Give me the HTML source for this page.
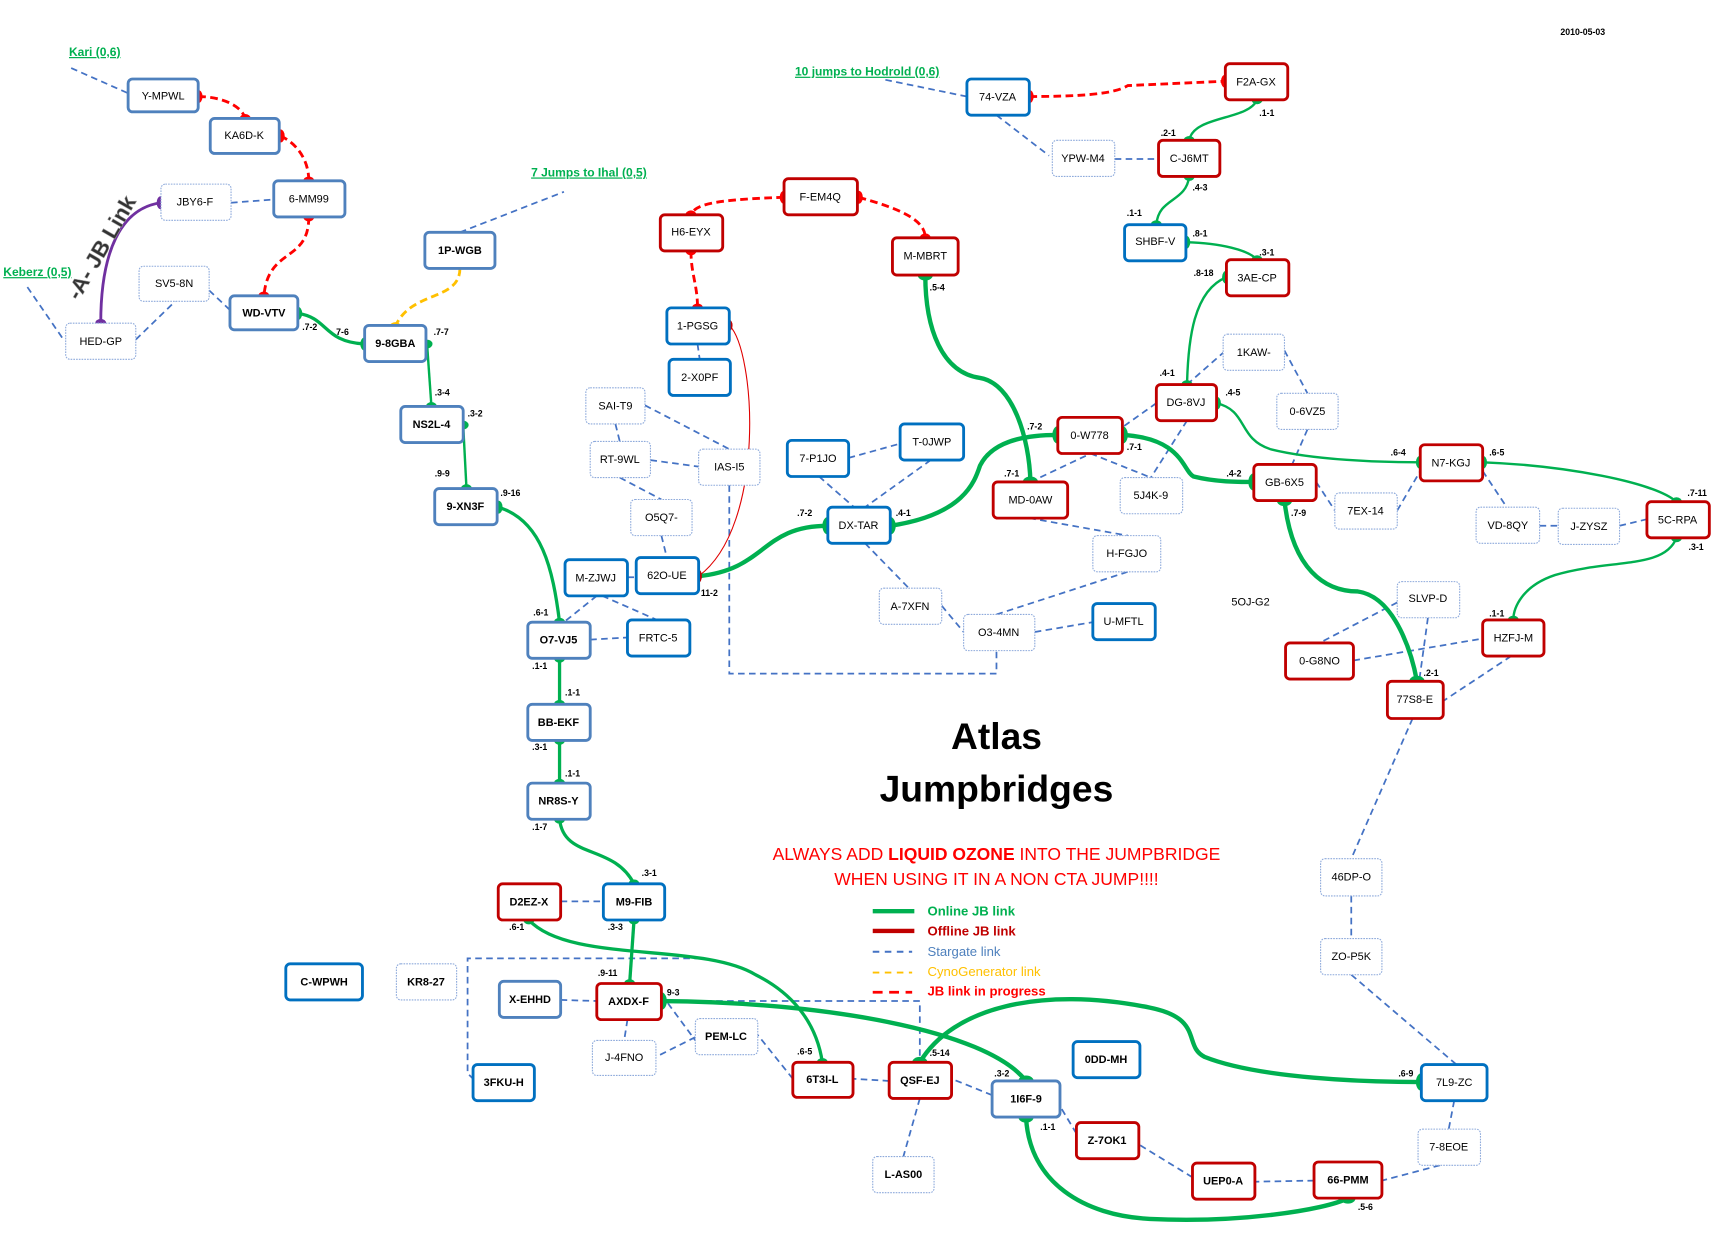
<!DOCTYPE html>
<html><head><meta charset="utf-8"><style>
html,body{margin:0;padding:0;background:#fff;}
svg{display:block;}
text{font-family:"Liberation Sans Narrow","Liberation Sans",sans-serif;}
.n{font-size:10px;text-anchor:middle;dominant-baseline:central;fill:#000;}
.l{font-size:8px;font-weight:bold;fill:#000;}
.sg{stroke:#4472c4;stroke-width:1.6;fill:none;stroke-dasharray:6 4;}
.g{stroke:#00b050;fill:none;stroke-width:2.2;}
.gt{stroke:#00b050;fill:none;stroke-width:4;}
.rd{stroke:#ff0000;fill:none;stroke-width:2.6;stroke-dasharray:7 4;}
.lk{font-size:11px;font-weight:bold;fill:#00b050;text-decoration:underline;}
</style></head><body>
<svg width="1717" height="1241" viewBox="0 0 1568 1133" xmlns="http://www.w3.org/2000/svg">
<rect width="1568" height="1133" fill="#fff"/>

<!-- stargate links -->
<g class="sg">
<path d="M65,62 L117,85"/><path d="M211,185 L250,182"/><path d="M25,262 L58,310"/>
<path d="M124,310 L160,275"/><path d="M191,265 L210,283"/><path d="M420,212 L515,175"/>
<path d="M562,387 L566,403"/><path d="M589,370 L666,410"/><path d="M594,420 L638,426"/>
<path d="M566,436 L604,456"/><path d="M604,489 L609,509"/><path d="M637,314 L639,328"/>
<path d="M573,527 L581,527"/><path d="M545,544 L515,568"/><path d="M550,544 L600,566"/>
<path d="M539,584 L573,582"/><path d="M666,443 L666,615 L910,615 L910,594"/>
<path d="M775,418 L822,405"/><path d="M748,435 L780,463"/><path d="M850,420 L790,463"/>
<path d="M790,496 L830,537"/><path d="M860,553 L880,577"/><path d="M910,561 L1030,522"/>
<path d="M945,577 L998,568"/><path d="M940,473 L1030,489"/><path d="M941,440 L996,414"/>
<path d="M996,414 L1051,436"/><path d="M1056,368 L1025,390"/><path d="M1084,384 L1051,436"/>
<path d="M1084,351 L1117,322"/><path d="M1173,320 L1194,359"/><path d="M1194,392 L1180,424"/>
<path d="M1202,440 L1219,466"/><path d="M1276,466 L1297,430"/><path d="M1354,430 L1376,463"/>
<path d="M1406,480 L1423,480"/><path d="M1479,480 L1504,474"/><path d="M883,88 L805,72"/>
<path d="M910,105 L958,142"/><path d="M1018,145 L1058,145"/><path d="M1276,550 L1205,587"/>
<path d="M1304,564 L1296,622"/><path d="M1236,603 L1354,583"/><path d="M1380,599 L1318,640"/>
<path d="M1290,656 L1234,784"/><path d="M1234,818 L1234,857"/><path d="M1234,890 L1330,972"/>
<path d="M1328,1005 L1323,1031"/><path d="M1315,1064 L1262,1078"/><path d="M1200,1078 L1146,1079"/>
<path d="M1089,1075 L1040,1045"/><path d="M983,1035 L968,1010"/><path d="M906,1000 L869,985"/>
<path d="M812,987 L779,985"/><path d="M840,1003 L825,1056"/><path d="M724,985 L692,945"/>
<path d="M635,947 L599,965"/><path d="M604,908 L635,950"/><path d="M573,931 L570,950"/>
<path d="M512,913 L545,914"/><path d="M512,823 L551,823"/>
<path d="M640,875 L427,875 L427,980 L432,985"/><path d="M604,914 L840,914 L840,970"/>
</g>

<!-- red in-progress -->
<g class="rd">
<path d="M181,88 C200,88 220,95 224,108"/><path d="M256,124 C270,130 282,145 282,165"/>
<path d="M282,198 C282,240 245,225 241,270"/><path d="M716,180 C660,182 635,185 631,196"/>
<path d="M784,180 C820,190 845,200 845,217"/><path d="M631,229 C631,250 637,260 637,281"/>
<path d="M940,88 C1000,88 1020,84 1030,78 L1119,74"/>
</g>
<path d="M420,245 C420,275 375,265 361,298" stroke="#ffc000" stroke-width="2.6" stroke-dasharray="7 4" fill="none"/>
<path d="M92,295 C92,230 110,190 147,185" stroke="#7030a0" stroke-width="2.6" fill="none"/>
<path d="M666,297 C690,320 700,480 638,526" stroke="#e00000" stroke-width="1" fill="none"/>

<!-- green links -->
<path class="g" d="M272,286 C300,290 295,312 333,314" style="stroke-width:3"/>
<path class="g" d="M390,314 L394,371"/><path class="g" d="M423,388 L426,446"/>
<path class="g" d="M455,463 C495,475 505,520 511,568" style="stroke-width:3"/>
<path class="g" d="M511,601 L511,643" style="stroke-width:3"/><path class="g" d="M511,676 L511,715" style="stroke-width:3"/>
<path class="g" d="M511,748 C515,785 560,770 579,807" style="stroke-width:3"/>
<path class="g" d="M579,840 L575,898" style="stroke-width:3"/>
<path class="g" d="M483,840 C520,880 640,860 690,890 C720,905 745,930 751,970" style="stroke-width:3"/>
<path class="gt" d="M604,914 C750,915 900,940 937,987"/>
<path class="gt" d="M638,526 C700,520 695,480 756,480"/>
<path class="gt" d="M813,480 C880,470 890,440 895,425 C905,405 930,397 966,397"/>
<path class="gt" d="M845,251 C845,300 860,340 895,345 C925,350 940,400 941,440"/>
<path class="gt" d="M1025,397 C1080,400 1080,430 1090,435 C1110,440 1130,440 1145,440"/>
<path class="g" d="M1148,91 C1140,110 1090,105 1086,128"/>
<path class="g" d="M1086,161 C1083,185 1058,180 1056,205"/>
<path class="g" d="M1083,221 C1115,222 1140,228 1148,237"/>
<path class="g" d="M1120,253 C1090,265 1085,310 1084,351"/>
<path class="g" d="M1111,368 C1140,375 1130,400 1160,410 C1200,420 1260,422 1297,422"/>
<path class="g" d="M1354,422 C1430,425 1510,440 1531,458"/>
<path class="g" d="M1531,491 C1520,520 1470,510 1420,525 C1390,535 1382,555 1382,566"/>
<path class="gt" d="M1173,457 C1180,520 1210,540 1240,540 C1275,545 1290,600 1294,622"/>
<path class="gt" d="M840,970 C870,920 950,900 1050,920 C1100,930 1080,955 1100,965 C1150,985 1250,988 1298,988"/>
<path class="gt" d="M937,1020 C940,1080 990,1110 1050,1113 C1130,1117 1210,1105 1231,1094"/>

<!-- endpoint dots -->
<g fill="#00b050">
<ellipse cx="272" cy="286" rx="4" ry="6"/><ellipse cx="333" cy="314" rx="4" ry="6"/>
<ellipse cx="390" cy="314" rx="5" ry="4"/><ellipse cx="394" cy="371" rx="5" ry="4"/>
<ellipse cx="423" cy="388" rx="5" ry="4"/><ellipse cx="426" cy="446" rx="5" ry="4"/>
<ellipse cx="455" cy="463" rx="4" ry="6"/><ellipse cx="511" cy="568" rx="5" ry="4"/>
<ellipse cx="511" cy="601" rx="5" ry="4"/><ellipse cx="511" cy="643" rx="5" ry="4"/>
<ellipse cx="511" cy="676" rx="5" ry="4"/><ellipse cx="511" cy="715" rx="5" ry="4"/>
<ellipse cx="511" cy="748" rx="5" ry="4"/><ellipse cx="579" cy="807" rx="5" ry="4"/>
<ellipse cx="579" cy="840" rx="5" ry="4"/><ellipse cx="575" cy="898" rx="5" ry="4"/>
<ellipse cx="483" cy="840" rx="5" ry="4"/><ellipse cx="751" cy="970" rx="5" ry="4"/>
<ellipse cx="604" cy="914" rx="5" ry="8"/><ellipse cx="937" cy="987" rx="7" ry="5"/>
<ellipse cx="756" cy="480" rx="5" ry="8"/><ellipse cx="813" cy="480" rx="5" ry="8"/>
<ellipse cx="966" cy="397" rx="5" ry="8"/><ellipse cx="845" cy="251" rx="7" ry="5"/>
<ellipse cx="941" cy="440" rx="7" ry="5"/><ellipse cx="1025" cy="397" rx="5" ry="8"/>
<ellipse cx="1145" cy="440" rx="5" ry="8"/><ellipse cx="1148" cy="91" rx="5" ry="4"/>
<ellipse cx="1086" cy="128" rx="5" ry="4"/><ellipse cx="1086" cy="161" rx="5" ry="4"/>
<ellipse cx="1056" cy="205" rx="5" ry="4"/><ellipse cx="1083" cy="221" rx="4" ry="6"/>
<ellipse cx="1148" cy="237" rx="5" ry="4"/><ellipse cx="1120" cy="253" rx="4" ry="6"/>
<ellipse cx="1084" cy="351" rx="5" ry="4"/><ellipse cx="1111" cy="368" rx="4" ry="6"/>
<ellipse cx="1297" cy="422" rx="4" ry="6"/><ellipse cx="1354" cy="422" rx="4" ry="6"/>
<ellipse cx="1531" cy="458" rx="5" ry="4"/><ellipse cx="1531" cy="491" rx="5" ry="4"/>
<ellipse cx="1382" cy="566" rx="5" ry="4"/><ellipse cx="1173" cy="457" rx="7" ry="5"/>
<ellipse cx="1294" cy="622" rx="7" ry="5"/><ellipse cx="840" cy="970" rx="7" ry="5"/>
<ellipse cx="1298" cy="988" rx="5" ry="8"/><ellipse cx="937" cy="1020" rx="7" ry="5"/>
<ellipse cx="1231" cy="1094" rx="7" ry="5"/>
</g>
<g fill="#ff0000">
<ellipse cx="181" cy="88" rx="4" ry="6"/><ellipse cx="224" cy="108" rx="5" ry="4"/>
<ellipse cx="256" cy="124" rx="4" ry="6"/><ellipse cx="282" cy="165" rx="5" ry="4"/>
<ellipse cx="282" cy="198" rx="5" ry="4"/><ellipse cx="241" cy="270" rx="5" ry="4"/>
<ellipse cx="716" cy="180" rx="4" ry="6"/><ellipse cx="631" cy="196" rx="5" ry="4"/>
<ellipse cx="784" cy="180" rx="4" ry="6"/><ellipse cx="845" cy="217" rx="5" ry="4"/>
<ellipse cx="631" cy="229" rx="5" ry="4"/><ellipse cx="637" cy="281" rx="5" ry="4"/>
<ellipse cx="940" cy="88" rx="4" ry="6"/><ellipse cx="1119" cy="74" rx="4" ry="6"/>
</g>
<ellipse cx="666" cy="297" rx="3" ry="5" fill="#c00000"/><ellipse cx="638" cy="526" rx="3" ry="6" fill="#c00000"/>
<ellipse cx="361" cy="298" rx="5" ry="4" fill="#ffc000"/>
<ellipse cx="92" cy="295" rx="5" ry="4" fill="#7030a0"/><ellipse cx="147" cy="185" rx="4" ry="6" fill="#7030a0"/>

<!-- nodes -->
<g stroke-width="2.6" fill="#fff">
<g stroke="#4f81bd">
<rect x="117" y="72" width="64" height="30" rx="4"/><rect x="192" y="108" width="63" height="32" rx="4"/>
<rect x="250" y="165" width="65" height="33" rx="4"/><rect x="210" y="270" width="62" height="31" rx="4"/>
<rect x="333" y="297" width="56" height="33" rx="4"/><rect x="388" y="212" width="64" height="33" rx="4"/>
<rect x="366" y="371" width="57" height="33" rx="4"/><rect x="397" y="446" width="57" height="33" rx="4"/>
<rect x="482" y="568" width="57" height="33" rx="4"/><rect x="482" y="643" width="57" height="33" rx="4"/>
<rect x="482" y="715" width="57" height="33" rx="4"/><rect x="456" y="896" width="56" height="33" rx="4"/>
<rect x="906" y="987" width="62" height="33" rx="4"/>
</g>
<g stroke="#0070c0">
<rect x="573" y="566" width="57" height="33" rx="4"/><rect x="551" y="807" width="56" height="33" rx="4"/>
<rect x="261" y="880" width="70" height="33" rx="4"/><rect x="432" y="972" width="56" height="33" rx="4"/>
<rect x="980" y="951" width="61" height="33" rx="4"/><rect x="1298" y="972" width="60" height="33" rx="4"/>
<rect x="998" y="551" width="57" height="33" rx="4"/><rect x="756" y="463" width="57" height="33" rx="4"/>
<rect x="822" y="387" width="58" height="33" rx="4"/><rect x="719" y="402" width="56" height="33" rx="4"/>
<rect x="609" y="281" width="57" height="33" rx="4"/><rect x="611" y="328" width="56" height="33" rx="4"/>
<rect x="516" y="511" width="57" height="33" rx="4"/><rect x="581" y="509" width="57" height="33" rx="4"/>
<rect x="883" y="72" width="57" height="33" rx="4"/><rect x="1027" y="205" width="56" height="33" rx="4"/>
</g>
<g stroke="#c00000">
<rect x="455" y="807" width="57" height="33" rx="4"/><rect x="545" y="898" width="59" height="33" rx="4"/>
<rect x="724" y="970" width="55" height="32" rx="4"/><rect x="812" y="970" width="57" height="33" rx="4"/>
<rect x="983" y="1025" width="57" height="33" rx="4"/><rect x="1089" y="1062" width="57" height="33" rx="4"/>
<rect x="1200" y="1061" width="62" height="33" rx="4"/><rect x="1267" y="622" width="51" height="34" rx="4"/>
<rect x="1174" y="587" width="62" height="33" rx="4"/><rect x="1354" y="566" width="56" height="33" rx="4"/>
<rect x="1504" y="458" width="57" height="33" rx="4"/><rect x="1297" y="406" width="57" height="33" rx="4"/>
<rect x="1145" y="424" width="57" height="33" rx="4"/><rect x="1056" y="351" width="55" height="33" rx="4"/>
<rect x="966" y="381" width="59" height="33" rx="4"/><rect x="907" y="440" width="68" height="33" rx="4"/>
<rect x="815" y="217" width="60" height="34" rx="4"/><rect x="716" y="163" width="67" height="33" rx="4"/>
<rect x="603" y="196" width="57" height="33" rx="4"/><rect x="1119" y="58" width="57" height="33" rx="4"/>
<rect x="1058" y="128" width="56" height="33" rx="4"/><rect x="1120" y="237" width="57" height="33" rx="4"/>
</g>
<g stroke="#8eaadb" stroke-width="1" stroke-dasharray="1.5 1">
<rect x="147" y="168" width="64" height="33" rx="4"/><rect x="127" y="243" width="64" height="32" rx="4"/>
<rect x="60" y="295" width="64" height="33" rx="4"/><rect x="362" y="880" width="55" height="33" rx="4"/>
<rect x="541" y="950" width="58" height="32" rx="4"/><rect x="635" y="930" width="57" height="33" rx="4"/>
<rect x="797" y="1056" width="56" height="33" rx="4"/><rect x="1295" y="1031" width="57" height="33" rx="4"/>
<rect x="1206" y="857" width="56" height="33" rx="4"/><rect x="1206" y="784" width="56" height="34" rx="4"/>
<rect x="1276" y="531" width="57" height="33" rx="4"/><rect x="1423" y="464" width="56" height="33" rx="4"/>
<rect x="1348" y="463" width="58" height="33" rx="4"/><rect x="1219" y="450" width="57" height="33" rx="4"/>
<rect x="1166" y="359" width="56" height="33" rx="4"/><rect x="1117" y="305" width="56" height="33" rx="4"/>
<rect x="1023" y="436" width="57" height="33" rx="4"/><rect x="998" y="489" width="62" height="33" rx="4"/>
<rect x="880" y="561" width="65" height="33" rx="4"/><rect x="803" y="537" width="57" height="33" rx="4"/>
<rect x="535" y="354" width="54" height="33" rx="4"/><rect x="539" y="403" width="55" height="33" rx="4"/>
<rect x="638" y="410" width="56" height="33" rx="4"/><rect x="576" y="456" width="56" height="33" rx="4"/>
<rect x="961" y="128" width="57" height="33" rx="4"/>
</g>
</g>

<g class="n">
<text x="149" y="88">Y-MPWL</text><text x="223" y="124">KA6D-K</text><text x="282" y="182">6-MM99</text>
<text x="178" y="185">JBY6-F</text><text x="159" y="259">SV5-8N</text><text x="92" y="312">HED-GP</text>
<text x="241" y="286" font-weight="bold">WD-VTV</text><text x="361" y="314" font-weight="bold">9-8GBA</text>
<text x="420" y="229" font-weight="bold">1P-WGB</text><text x="394" y="388" font-weight="bold">NS2L-4</text>
<text x="425" y="463" font-weight="bold">9-XN3F</text><text x="510" y="585" font-weight="bold">O7-VJ5</text>
<text x="601" y="583">FRTC-5</text><text x="510" y="660" font-weight="bold">BB-EKF</text>
<text x="510" y="732" font-weight="bold">NR8S-Y</text><text x="579" y="824" font-weight="bold">M9-FIB</text>
<text x="483" y="824" font-weight="bold">D2EZ-X</text><text x="296" y="897" font-weight="bold">C-WPWH</text>
<text x="389" y="897" font-weight="bold">KR8-27</text><text x="484" y="913" font-weight="bold">X-EHHD</text>
<text x="574" y="915" font-weight="bold">AXDX-F</text><text x="570" y="966">J-4FNO</text>
<text x="663" y="947" font-weight="bold">PEM-LC</text><text x="460" y="989" font-weight="bold">3FKU-H</text>
<text x="751" y="986" font-weight="bold">6T3I-L</text><text x="840" y="987" font-weight="bold">QSF-EJ</text>
<text x="937" y="1004" font-weight="bold">1I6F-9</text><text x="1010" y="968" font-weight="bold">0DD-MH</text>
<text x="825" y="1073" font-weight="bold">L-AS00</text><text x="1011" y="1042" font-weight="bold">Z-7OK1</text>
<text x="1117" y="1079" font-weight="bold">UEP0-A</text><text x="1231" y="1078" font-weight="bold">66-PMM</text>
<text x="1323" y="1048">7-8EOE</text><text x="1328" y="989">7L9-ZC</text>
<text x="1234" y="874">ZO-P5K</text><text x="1234" y="801">46DP-O</text>
<text x="1292" y="639">77S8-E</text><text x="1205" y="604">0-G8NO</text>
<text x="1382" y="583">HZFJ-M</text><text x="1304" y="547">SLVP-D</text>
<text x="1142" y="550">5OJ-G2</text><text x="1532" y="475">5C-RPA</text>
<text x="1451" y="481">J-ZYSZ</text><text x="1377" y="480">VD-8QY</text>
<text x="1325" y="423">N7-KGJ</text><text x="1247" y="467">7EX-14</text>
<text x="1173" y="441">GB-6X5</text><text x="1194" y="376">0-6VZ5</text>
<text x="1145" y="322">1KAW-</text><text x="1083" y="368">DG-8VJ</text>
<text x="1051" y="453">5J4K-9</text><text x="995" y="398">0-W778</text>
<text x="941" y="457">MD-0AW</text><text x="1029" y="506">H-FGJO</text>
<text x="1026" y="568">U-MFTL</text><text x="912" y="578">O3-4MN</text>
<text x="831" y="554">A-7XFN</text><text x="784" y="480">DX-TAR</text>
<text x="851" y="404">T-0JWP</text><text x="747" y="419">7-P1JO</text>
<text x="845" y="234">M-MBRT</text><text x="749" y="180">F-EM4Q</text>
<text x="631" y="212">H6-EYX</text><text x="637" y="298">1-PGSG</text>
<text x="639" y="345">2-X0PF</text><text x="562" y="371">SAI-T9</text>
<text x="566" y="420">RT-9WL</text><text x="666" y="427">IAS-I5</text>
<text x="604" y="473">O5Q7-</text><text x="544" y="528">M-ZJWJ</text>
<text x="609" y="526">62O-UE</text><text x="911" y="89">74-VZA</text>
<text x="1147" y="75">F2A-GX</text><text x="989" y="145">YPW-M4</text>
<text x="1086" y="145">C-J6MT</text><text x="1055" y="221">SHBF-V</text>
<text x="1148" y="254">3AE-CP</text>
</g>

<g class="l">
<text x="276" y="301">.7-2</text><text x="307" y="306">7-6</text><text x="396" y="306">.7-7</text>
<text x="397" y="361">.3-4</text><text x="427" y="380">.3-2</text><text x="397" y="435">.9-9</text>
<text x="457" y="453">.9-16</text><text x="487" y="562">.6-1</text><text x="486" y="611">.1-1</text>
<text x="516" y="635">.1-1</text><text x="486" y="685">.3-1</text><text x="516" y="709">.1-1</text>
<text x="486" y="758">.1-7</text><text x="586" y="800">.3-1</text><text x="465" y="849">.6-1</text>
<text x="555" y="849">.3-3</text><text x="546" y="891">.9-11</text><text x="609" y="909">9-3</text>
<text x="728" y="963">.6-5</text><text x="849" y="964">.5-14</text><text x="908" y="983">.3-2</text>
<text x="950" y="1032">.1-1</text><text x="1240" y="1105">.5-6</text><text x="1277" y="983">.6-9</text>
<text x="1300" y="617">.2-1</text><text x="1360" y="563">.1-1</text><text x="1542" y="502">.3-1</text>
<text x="1541" y="453">.7-11</text><text x="1360" y="416">.6-5</text><text x="1270" y="416">.6-4</text>
<text x="1179" y="471">.7-9</text><text x="1120" y="435">.4-2</text><text x="1119" y="361">.4-5</text>
<text x="1059" y="343">.4-1</text><text x="1029" y="411">.7-1</text><text x="938" y="392">.7-2</text>
<text x="917" y="435">.7-1</text><text x="818" y="471">.4-1</text><text x="728" y="471">.7-2</text>
<text x="640" y="544">11-2</text><text x="849" y="265">.5-4</text><text x="1090" y="252">.8-18</text>
<text x="1150" y="233">.3-1</text><text x="1089" y="216">.8-1</text><text x="1029" y="197">.1-1</text>
<text x="1089" y="174">.4-3</text><text x="1060" y="124">.2-1</text><text x="1150" y="106">.1-1</text>
<text x="1425" y="32">2010-05-03</text>
</g>

<text class="lk" x="63" y="51">Kari (0,6)</text>
<text class="lk" x="3" y="252">Keberz (0,5)</text>
<text class="lk" x="485" y="161">7 Jumps to Ihal (0,5)</text>
<text class="lk" x="726" y="69">10 jumps to Hodrold (0,6)</text>

<text x="0" y="0" transform="translate(72,275) rotate(-60)" font-size="20" font-weight="bold" fill="#333" style="font-family:'Liberation Sans',sans-serif;" stroke="#999" stroke-width="0.5">-A- JB Link</text>

<text x="910" y="684" font-size="34" font-weight="bold" text-anchor="middle" style="font-family:'Liberation Sans',sans-serif;">Atlas</text>
<text x="910" y="732" font-size="34" font-weight="bold" text-anchor="middle" style="font-family:'Liberation Sans',sans-serif;">Jumpbridges</text>
<text x="910" y="785" font-size="16" fill="#ff0000" text-anchor="middle">ALWAYS ADD <tspan font-weight="bold">LIQUID OZONE</tspan> INTO THE JUMPBRIDGE</text>
<text x="910" y="808" font-size="16" fill="#ff0000" text-anchor="middle">WHEN USING IT IN A NON CTA JUMP!!!!</text>

<g font-size="12" font-weight="bold">
<line x1="797" y1="832" x2="835" y2="832" stroke="#00b050" stroke-width="4"/><text x="847" y="836" fill="#00b050">Online JB link</text>
<line x1="797" y1="850" x2="835" y2="850" stroke="#c00000" stroke-width="4"/><text x="847" y="854" fill="#c00000">Offline JB link</text>
<line x1="797" y1="869" x2="833" y2="869" stroke="#4472c4" stroke-width="1.8" stroke-dasharray="6 5"/><text x="847" y="873" fill="#4f81bd" font-weight="normal">Stargate link</text>
<line x1="797" y1="888" x2="833" y2="888" stroke="#ffc000" stroke-width="1.8" stroke-dasharray="6 5"/><text x="847" y="891" fill="#ffc000" font-weight="normal">CynoGenerator link</text>
<line x1="797" y1="906" x2="833" y2="906" stroke="#ff0000" stroke-width="2.6" stroke-dasharray="9 6"/><text x="847" y="909" fill="#ff0000">JB link in progress</text>
</g>
</svg>
</body></html>
